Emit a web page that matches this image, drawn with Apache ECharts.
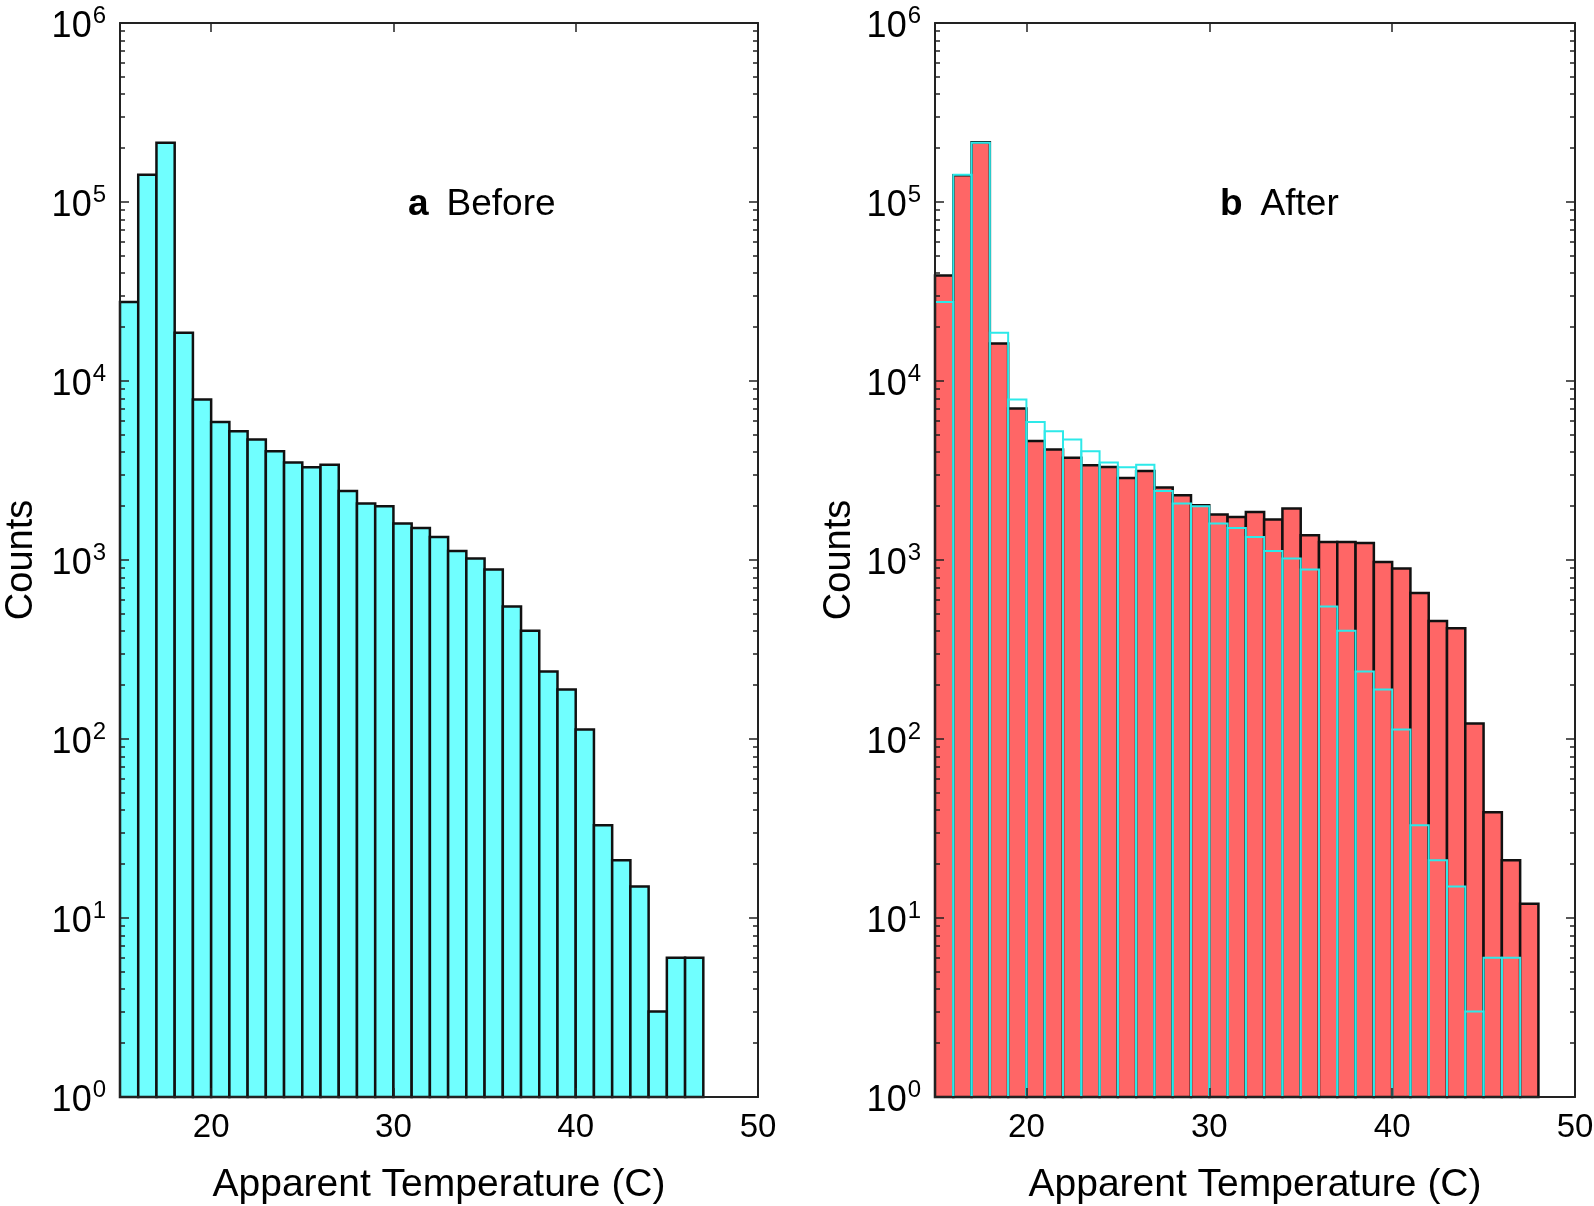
<!DOCTYPE html>
<html>
<head>
<meta charset="utf-8">
<script src="https://cdn.jsdelivr.net/npm/echarts@6/dist/echarts.min.js"></script>
<style>
html, body { margin: 0; padding: 0; background: #fff; }
#chart { width: 1594px; height: 1206px; }
</style>
</head>
<body>
<div id="chart"></div>
<script>
// histogram bins (left edges, 1 C wide)
const binLeft = [15, 16, 17, 18, 19, 20, 21, 22, 23, 24, 25, 26, 27, 28, 29, 30,
                 31, 32, 33, 34, 35, 36, 37, 38, 39, 40, 41, 42, 43, 44, 45, 46, 47];
const binWidth = 1;

// a: before
const beforeCounts = [27600, 142000, 214000, 18600, 7870, 5900, 5240, 4710, 4050, 3510,
                      3300, 3410, 2430, 2070, 1995, 1600, 1510, 1344, 1122, 1020, 886,
                      550, 402, 238, 189, 113, 33, 21, 15, 3, 6, 6];
// b: after
const afterCounts = [38900, 141000, 216000, 16200, 7010, 4620, 4140, 3720, 3380, 3310,
                     2870, 3140, 2540, 2300, 2020, 1795, 1740, 1854, 1682, 1937, 1374,
                     1261, 1261, 1245, 975, 896, 655, 456, 415, 122, 39, 21, 12];

const xTicks = [20, 30, 40, 50];
const yTicks = [1, 10, 100, 1000, 10000, 100000, 1000000];
const yMinorTicks = [];
[1, 10, 100, 1000, 10000, 100000].forEach(function (d) {
    [2, 3, 4, 5, 6, 7, 8, 9].forEach(function (m) { yMinorTicks.push(m * d); });
});

const FONT = 'Liberation Sans, Arial, Helvetica, sans-serif';
const AXIS_COLOR = '#222';

function histData(counts) {
    return counts.map(function (c, i) { return [binLeft[i], binLeft[i] + binWidth, c]; });
}

function histRenderer(fill, stroke, width) {
    return function (params, api) {
        const base = api.coord([api.value(0), 1]);
        const top = api.coord([api.value(1), api.value(2)]);
        return {
            type: 'rect',
            shape: { x: base[0], y: top[1], width: top[0] - base[0], height: base[1] - top[1] },
            style: { fill: fill, stroke: stroke, lineWidth: width }
        };
    };
}

function xAxes(grid) {
    const line = { show: true, onZero: false, lineStyle: { color: AXIS_COLOR, width: 2 } };
    const tick = { show: true, inside: true, length: 9, customValues: xTicks,
                   lineStyle: { color: AXIS_COLOR, width: 1.5 } };
    return [{
        gridIndex: grid, type: 'value', position: 'bottom', min: 15, max: 50, z: 10,
        name: 'Apparent Temperature (C)', nameLocation: 'middle', nameGap: 69,
        nameTextStyle: { fontFamily: FONT, fontSize: 39, color: '#000' },
        axisLine: line, axisTick: tick, splitLine: { show: false },
        axisLabel: { customValues: xTicks, margin: 14, fontFamily: FONT, fontSize: 33, color: '#000' }
    }, {
        gridIndex: grid, type: 'value', position: 'top', min: 15, max: 50, z: 10,
        axisLine: line, axisTick: tick, splitLine: { show: false }, axisLabel: { show: false }
    }];
}

function yAxes(grid, nameGap) {
    const common = { gridIndex: grid, type: 'log', logBase: 10, min: 1, max: 1000000, z: 10,
                     splitLine: { show: false } };
    const line = { show: true, lineStyle: { color: AXIS_COLOR, width: 2 } };
    const major = { show: true, inside: true, length: 9, customValues: yTicks,
                    lineStyle: { color: AXIS_COLOR, width: 1.5 } };
    const minor = { show: true, inside: true, length: 5, customValues: yMinorTicks,
                    lineStyle: { color: AXIS_COLOR, width: 1.5 } };
    return [
        Object.assign({}, common, {
            position: 'left', axisLine: line, axisTick: major,
            name: 'Counts', nameLocation: 'middle', nameGap: nameGap,
            nameTextStyle: { fontFamily: FONT, fontSize: 38, color: '#000' },
            axisLabel: {
                customValues: yTicks, margin: 14, fontFamily: FONT, fontSize: 30, color: '#000',
                formatter: function (v) { return '{base|10}{exp|' + Math.round(Math.log10(v)) + '}'; },
                rich: {
                    base: { fontFamily: FONT, fontSize: 36, color: '#000', padding: [8, 0, 0, 0] },
                    exp: { fontFamily: FONT, fontSize: 24, color: '#000', padding: [0, 0, 14, 1] }
                }
            }
        }),
        Object.assign({}, common, { position: 'left', axisLine: { show: false }, axisTick: minor, axisLabel: { show: false } }),
        Object.assign({}, common, { position: 'right', axisLine: line, axisTick: major, axisLabel: { show: false } }),
        Object.assign({}, common, { position: 'right', axisLine: { show: false }, axisTick: minor, axisLabel: { show: false } })
    ];
}

function panelTitle(letter, label, left) {
    return {
        text: '{b|' + letter + '}{n|' + label + '}', left: left, top: 184, padding: 0,
        textStyle: {
            fontWeight: 'normal',
            rich: {
                b: { fontFamily: FONT, fontSize: 37, fontWeight: 'bold', color: '#000', lineHeight: 42, padding: [0, 18, 0, 0] },
                n: { fontFamily: FONT, fontSize: 37, fontWeight: 'normal', color: '#000', lineHeight: 42 }
            }
        }
    };
}

const chart = echarts.init(document.getElementById('chart'));
chart.setOption({
    animation: false,
    backgroundColor: '#fff',
    title: [panelTitle('a', 'Before', 408), panelTitle('b', 'After', 1220)],
    grid: [
        { left: 120, top: 23, width: 638, height: 1074, containLabel: false, outerBoundsMode: 'none' },
        { left: 935, top: 23, width: 640, height: 1074, containLabel: false, outerBoundsMode: 'none' }
    ],
    xAxis: xAxes(0).concat(xAxes(1)),
    yAxis: yAxes(0, 79).concat(yAxes(1, 76)),
    series: [
        {
            name: 'Before', type: 'custom', xAxisIndex: 0, yAxisIndex: 0,
            renderItem: histRenderer('#70ffff', '#111', 2.5),
            encode: { x: [0, 1], y: 2 }, data: histData(beforeCounts)
        },
        {
            name: 'After', type: 'custom', xAxisIndex: 2, yAxisIndex: 4,
            renderItem: histRenderer('#ff6666', '#111', 2.5),
            encode: { x: [0, 1], y: 2 }, data: histData(afterCounts)
        },
        {
            name: 'Before outline', type: 'custom', xAxisIndex: 2, yAxisIndex: 4, z: 3,
            renderItem: histRenderer('none', '#2de9e9', 2),
            encode: { x: [0, 1], y: 2 }, data: histData(beforeCounts)
        }
    ]
});
window.addEventListener('resize', function () { chart.resize(); });
</script>
</body>
</html>
